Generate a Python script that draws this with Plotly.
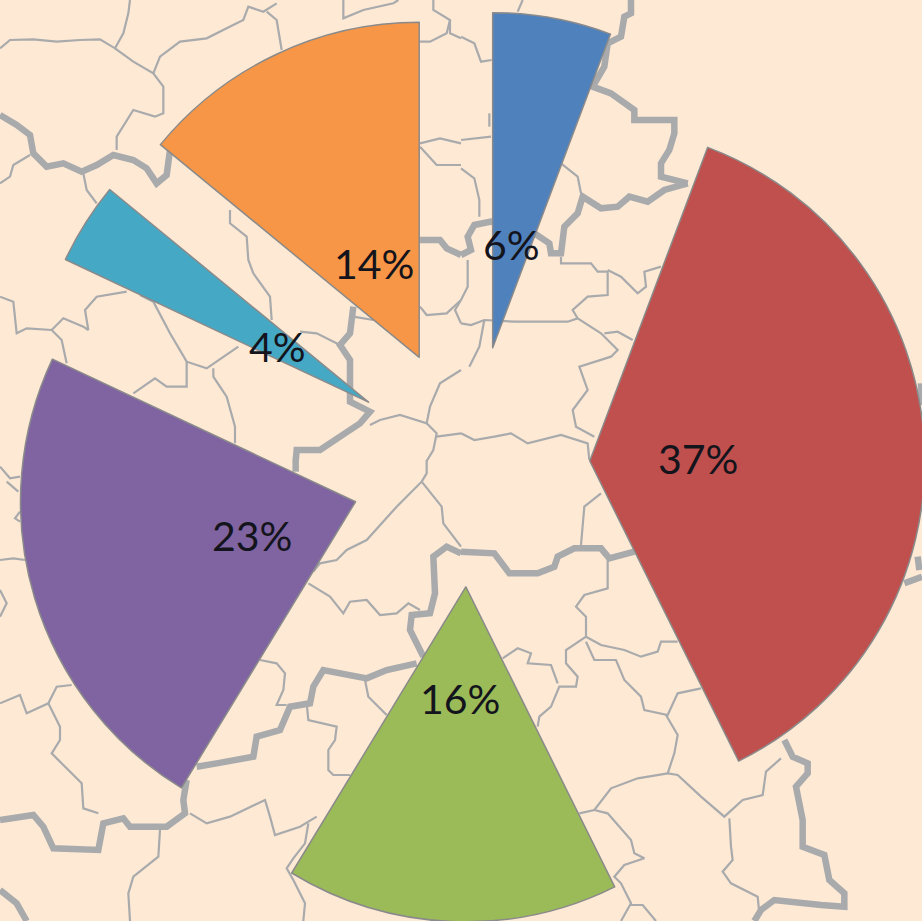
import plotly.graph_objects as go

# Pie data
categories = ["A", "B", "C", "D", "E", "F"]
shares = [5.72, 36.95, 16.03, 23.3, 3.95, 14.05]
pulls = [0.362, 0.355, 0.358, 0.36, 0.362, 0.362]
colors = ["#4F81BD", "#C0504D", "#9BBB59", "#8064A2", "#45A9C6", "#F79646"]
label_x = [511, 698, 460, 252, 277, 374]
label_y = [244, 458, 698, 535, 346, 263]

BG = "#FEE9D5"
LINE = "#A9AAAC"

# Background map outlines, read in four 3x crops (offset x, offset y, polylines)
q1_thick = [
    [(0,345),(50,375),(90,405),(100,460),(140,500),(190,490),(245,515),(290,495),(340,465),(400,480),(440,505),(470,550),(500,525),(510,450)],
    [(1060,920),(1050,1000),(1020,1035),(1050,1080),(1050,1160),(1050,1205),(1110,1235),(1080,1270),(1020,1310),(960,1350),(890,1350),(887,1383)],
    [(1260,720),(1320,720),(1340,745),(1383,765)],
]
q1_thin = [
    [(0,145),(30,120),(100,118),(170,125),(240,120),(300,118),(345,145),(370,100),(385,40),(390,0)],
    [(345,145),(400,185),(460,220),(490,260),(490,340),(465,350),(400,330),(375,370),(350,410),(350,450)],
    [(460,220),(480,170),(540,125),(620,115),(680,85),(730,60),(745,20),(790,35),(830,10)],
    [(800,35),(830,60),(845,150)],
    [(1030,0),(1030,55),(1090,30),(1180,10),(1195,0)],
    [(1300,0),(1300,30),(1350,60),(1340,100),(1290,125),(1260,125)],
    [(1350,60),(1350,100),(1383,115)],
    [(1260,430),(1320,415),(1383,430)],
    [(1260,440),(1310,495),(1383,495)],
    [(690,630),(690,670),(740,710),(745,780),(760,820),(810,890),(815,960)],
    [(900,995),(950,1000),(1020,1035)],
    [(1260,920),(1280,945),(1340,940),(1383,900)],
    [(1383,900),(1365,930),(1383,970)],
    [(1060,950),(1120,960)],
    [(250,520),(260,570),(290,610)],
    [(90,465),(40,495),(30,530),(0,550)],
    [(0,890),(40,905),(50,1000),(80,985),(155,990),(185,1020),(200,1090)],
    [(155,990),(190,955),(250,980),(265,990),(255,930),(290,890),(380,875)],
    [(420,885),(460,905),(510,1000),(560,1085),(620,1105),(650,1085),(715,1040)],
    [(560,1085),(560,1160),(500,1160),(465,1135),(400,1180)],
    [(640,1105),(640,1130),(680,1190),(705,1280),(705,1330)],
    [(1383,1110),(1320,1150),(1290,1220),(1280,1270),(1200,1245),(1140,1260),(1110,1275)],
    [(1280,1270),(1310,1300),(1300,1350),(1280,1383)],
    [(1310,1310),(1383,1300)],
]
q2_thick = [
    [(0,765),(30,750),(20,710),(40,675),(90,665),(220,700),(265,730),(270,760),(300,760),(310,680),(350,640),(365,590),(420,625),(470,620),(505,590),(560,605),(610,570),(680,550)],
    [(680,550),(600,530),(600,490),(625,450),(640,400),(640,360),(590,360),(520,360),(520,330),(450,280),(395,260),(430,200),(440,130),(480,110),(490,50),(510,40),(510,0)],
    [(1380,1150),(1380,1215)],
]
q2_thin = [
    [(0,110),(40,130),(60,185),(92,180)],
    [(0,420),(90,410)],
    [(85,340),(85,380)],
    [(0,505),(40,535),(55,600),(55,650)],
    [(20,780),(20,860),(0,900)],
    [(300,490),(350,530),(360,580)],
    [(300,770),(300,790),(390,790),(410,815),(440,815),(440,885),(380,890),(335,930),(350,955),(320,965),(160,965),(70,960),(30,975),(0,970)],
    [(440,810),(480,830),(530,880),(555,860),(550,815),(600,800)],
    [(350,955),(420,1000),(470,1050),(450,1070),(355,1100),(380,1170),(335,1230),(345,1280),(400,1310)],
    [(430,1000),(470,995),(515,1020)],
    [(70,960),(55,1040),(25,1100)],
    [(0,1300),(40,1320),(100,1310),(150,1300),(200,1330),(300,1305),(380,1330),(385,1380)],
    [(185,0),(170,35)],
]
q3_thick = [
    [(887,0),(887,35)],
    [(1383,280),(1340,260),(1300,290),(1305,400),(1290,460),(1235,465),(1230,510),(1270,590)],
    [(1250,610),(1160,630),(1100,655),(1030,640),(970,630),(940,680),(930,730),(870,740),(840,810),(770,830),(760,890),(650,910),(590,920)],
    [(560,960),(550,1020),(555,1060),(500,1100),(390,1100),(370,1075),(310,1090),(295,1170),(160,1165),(130,1100),(100,1065),(0,1080)],
    [(0,1290),(50,1330),(80,1383)],
]
q3_thin = [
    [(0,20),(30,55),(60,50)],
    [(20,65),(55,95)],
    [(60,155),(45,175),(60,185)],
    [(0,300),(40,295),(75,300)],
    [(0,390),(20,430),(0,470)],
    [(1280,0),(1280,40),(1265,65),(1190,140),(1100,240),(1040,270),(1010,300),(960,310),(940,335)],
    [(1265,65),(1325,140),(1330,190),(1383,260)],
    [(925,370),(990,410),(1030,460),(1050,425),(1100,420),(1140,465),(1190,460),(1225,430),(1260,450)],
    [(1095,660),(1105,710),(1160,765)],
    [(920,730),(925,780),(1010,800),(1005,840),(985,870),(985,930),(1000,945),(1050,945)],
    [(570,1060),(620,1090),(690,1070),(750,1040),(795,1020),(810,1070),(825,1125),(900,1100),(950,1070)],
    [(925,1090),(915,1150),(880,1195),(860,1225),(880,1260),(915,1330),(910,1383)],
    [(480,1110),(475,1190),(400,1250),(385,1300),(390,1383)],
    [(0,730),(60,705),(80,760),(145,730),(170,680),(215,675)],
    [(145,730),(180,800),(180,840),(155,880),(245,970),(250,1045),(295,1060)],
    [(780,600),(830,610),(855,640),(850,690),(830,735),(860,735)],
]
q4_thick = [
    [(0,275),(100,280),(145,340),(230,340),(280,320),(290,290),(340,265),(420,265),(445,295),(520,275)],
    [(1383,350),(1330,370)],
    [(1370,290),(1375,330)],
    [(970,840),(995,890),(1040,910),(1040,940),(1005,980),(1025,1080),(1025,1160),(1090,1185),(1105,1260),(1150,1300),(1150,1340),(1080,1335),(940,1320),(900,1350),(880,1383)],
]
q4_thin = [
    [(360,255),(370,140),(420,100)],
    [(440,300),(440,385),(370,405),(345,440),(375,470),(375,530),(315,570),(315,610),(350,650),(345,680),(295,680),(270,740),(235,770),(230,800)],
    [(375,530),(420,555),(490,570),(540,590),(590,575),(600,545),(650,545)],
    [(375,545),(400,600),(465,600),(490,660),(540,710),(550,750),(620,765),(650,700),(720,685)],
    [(615,765),(650,825),(640,880),(620,940),(650,945),(720,1010),(790,1070),(845,1020),(905,1005),(915,935),(960,895)],
    [(620,940),(530,955),(450,985),(400,1050),(355,1060)],
    [(400,1050),(440,1060),(510,1140),(520,1180),(550,1195),(490,1215),(460,1250),(480,1270),(510,1330),(480,1383)],
    [(510,1335),(545,1335),(585,1383)],
    [(805,1075),(810,1160),(815,1200),(785,1235),(810,1270),(890,1310),(895,1360)],
    [(125,595),(170,565),(210,580),(200,610),(270,615),(290,670)],
]

# Canvas is a little larger than the window: the pie's domain reaches past the right edge
CANVAS_W, CANVAS_H = 960, 960
CX, CY, RADIUS = 471, 467, 335


def flatten(groups):
    xs, ys = [], []
    for ox, oy, lines in groups:
        for line in lines:
            for px, py in line:
                xs.append(ox + px / 3)
                ys.append(oy + py / 3)
            xs.append(None)
            ys.append(None)
    return xs, ys


thin_x, thin_y = flatten([(0, 0, q1_thin), (461, 0, q2_thin), (0, 460, q3_thin), (461, 460, q4_thin)])
thick_x, thick_y = flatten([(0, 0, q1_thick), (461, 0, q2_thick), (0, 460, q3_thick), (461, 460, q4_thick)])

fig = go.Figure()
fig.add_trace(go.Scatter(x=thin_x, y=thin_y, mode="lines", hoverinfo="skip",
                         line=dict(color=LINE, width=2.2)))
fig.add_trace(go.Scatter(x=thick_x, y=thick_y, mode="lines", hoverinfo="skip",
                         line=dict(color=LINE, width=6.5)))

half = RADIUS * (1 + max(pulls))
fig.add_trace(go.Pie(
    labels=categories, values=shares, pull=pulls, sort=False, direction="clockwise",
    rotation=0, textinfo="none", hoverinfo="skip",
    marker=dict(colors=colors, line=dict(color="#8A8A8A", width=1.5)),
    domain=dict(
        x=[(CX - half) / CANVAS_W, (CX + half) / CANVAS_W],
        y=[1 - (CY + half) / CANVAS_H, 1 - (CY - half) / CANVAS_H],
    ),
))

total = sum(shares)
annotations = [
    dict(x=x, y=y, xref="x", yref="y", showarrow=False,
         text=f"{round(v / total * 100)}%",
         font=dict(family="Lato", size=41, color="#14141C"))
    for v, x, y in zip(shares, label_x, label_y)
]

fig.update_layout(
    width=CANVAS_W, height=CANVAS_H, margin=dict(l=0, r=0, t=0, b=0),
    paper_bgcolor=BG, plot_bgcolor=BG, showlegend=False, annotations=annotations,
    xaxis=dict(range=[0, CANVAS_W], visible=False, fixedrange=True),
    yaxis=dict(range=[CANVAS_H, 0], visible=False, fixedrange=True),
)

fig.write_html(
    "out.html",
    config=dict(displayModeBar=False),
    post_script=(
        "document.documentElement.style.overflow='hidden';"
        "document.body.style.overflow='hidden';"
        "document.body.style.margin='0';"
    ),
)
